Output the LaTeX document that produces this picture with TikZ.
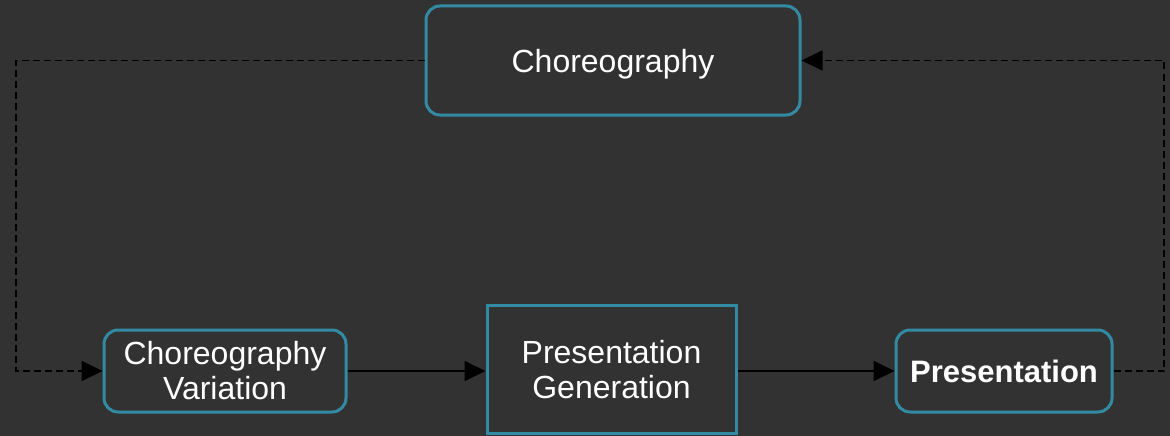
\documentclass[tikz,border=0pt]{standalone}
\usepackage{fontspec}
\setmainfont{Liberation Sans}
\usetikzlibrary{arrows.meta}
\definecolor{bgc}{HTML}{323232}
\definecolor{edgec}{HTML}{338BA3}
\begin{document}
\begin{tikzpicture}[x=1pt,y=-1pt,
  box/.style={draw=edgec,line width=3pt,fill=bgc,text=white,align=center,
    font=\fontsize{32}{35}\selectfont,inner sep=0pt},
  rbox/.style={box,rounded corners=14pt},
  flow/.style={draw=black,line width=1.8pt,-{Triangle[length=21pt,width=20pt]}},
  back/.style={flow,dash pattern=on 7pt off 4pt}]
\useasboundingbox[fill=bgc] (0,0) rectangle (1170,436);
\node[rbox,minimum width=374pt,minimum height=109pt,text depth=0pt] (ch) at (613,60.5) {Choreography};
\node[rbox,minimum width=242pt,minimum height=82pt] (cv) at (225,371) {Choreography\\Variation};
\node[box,minimum width=249pt,minimum height=128pt] (pg) at (611.5,369.5) {Presentation\\Generation};
\node[rbox,minimum width=216pt,minimum height=82pt,font=\fontsize{31}{35}\selectfont\bfseries] (pr) at (1004,371) {Presentation};
\coordinate (l1) at (16,60.5);
\coordinate (l2) at (16,371);
\coordinate (r1) at (1164,371);
\coordinate (r2) at (1164,60.5);
\draw[flow] (cv.east) -- (pg.west |- cv.east);
\draw[flow] (pg.east |- pr.west) -- (pr.west);
\draw[back] (ch.west) -- (l1) -- (l2) -- (cv.west);
\draw[back] (pr.east) -- (r1) -- (r2) -- (ch.east);
\end{tikzpicture}
\end{document}
